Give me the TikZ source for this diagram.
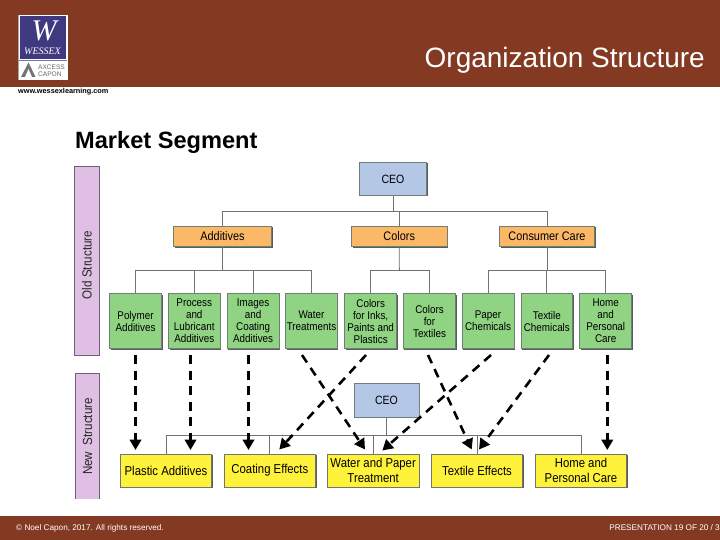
\documentclass[tikz,border=0pt]{standalone}
\usepackage{fontspec}
\setmainfont{Liberation Sans}
\newfontfamily\narrowf[FakeStretch=0.88]{Liberation Sans}
\newfontfamily\logof{Liberation Serif}
\usetikzlibrary{arrows.meta,shadows}
\definecolor{brownbar}{HTML}{843A22}
\definecolor{linec}{HTML}{6E7470}
\definecolor{edgec}{HTML}{6F7F78}
\definecolor{shadowc}{HTML}{555F5A}
\definecolor{ceoc}{HTML}{B4C7E7}
\definecolor{orangec}{HTML}{FBB867}
\definecolor{greenc}{HTML}{8FD383}
\definecolor{yellowc}{HTML}{FFF23A}
\definecolor{purplec}{HTML}{DFBFE3}
\definecolor{purpleedge}{HTML}{6F5F78}
\definecolor{navyc}{HTML}{3F3A80}
\tikzset{
  x=1pt,y=-1pt,
  boxbase/.style={draw=edgec,line width=.7pt,inner sep=0pt,align=center,text=black,
    font=\narrowf\fontsize{11.2}{12}\selectfont,
    general shadow={fill=shadowc,shadow xshift=1pt,shadow yshift=-1pt}},
  ceobox/.style={boxbase,fill=ceoc,font=\narrowf\fontsize{12}{14}\selectfont},
  orangebox/.style={boxbase,fill=orangec,font=\narrowf\fontsize{12.4}{14}\selectfont},
  greenbox/.style={boxbase,fill=greenc},
  yellowbox/.style={boxbase,fill=yellowc,draw=black!55,font=\narrowf\fontsize{12.9}{15}\selectfont},
  tree/.style={draw=linec,line width=.9pt},
  moved/.style={draw=black,line width=2.6pt,dash pattern=on 9pt off 6.5pt,
    -{Triangle[length=10.5pt,width=11.5pt]}},
  barlabel/.style={rotate=90,font=\narrowf\fontsize{13.2}{15}\selectfont,text=black!85,inner sep=0pt},
  plain/.style={inner sep=0pt,text=black},
}
\newcommand{\bx}[7]{\node[#1,minimum width={(#5)-(#3)},minimum height={(#6)-(#4)}] (#2) at ({((#3)+(#5))/2},{((#4)+(#6))/2}) {#7};}
\begin{document}
\begin{tikzpicture}
\useasboundingbox (0,0) rectangle (720,540);
\fill[white] (0,0) rectangle (720,540);
\fill[brownbar] (0,0) rectangle (720,87);
\fill[brownbar] (0,516) rectangle (720,540);
% logo
\fill[white] (18,15) rectangle (67.5,80.5);
\fill[navyc] (19.5,16.5) rectangle (66,59);
\fill[navyc!70!white] (19,60) rectangle (67,61);
\fill[black!35] (18,15) rectangle (18.6,80.5);
\node[plain,text=white,font=\logof\itshape\fontsize{30}{30}\selectfont] (logow) at (44,30.5) {W};
\node[plain,text=white,font=\logof\itshape\fontsize{10}{10}\selectfont] (logon) at (42.5,51) {WESSEX};
\node[plain,text=black!60,font=\fontsize{6.6}{7.4}\selectfont,align=left] (logoa) at (51.5,71) {AXCESS\\CAPON};
\fill[black!55] (28.5,62.5) -- (35.5,77) -- (21,77) -- cycle;
\fill[white] (28.5,69) -- (32,77) -- (25,77) -- cycle;
% header texts
\node[plain,text=white,font=\fontsize{28}{32}\selectfont,anchor=east] (title) at (705,60) {Organization Structure};
\node[plain,font=\bfseries\fontsize{7.3}{9}\selectfont,anchor=west] (url) at (18,92) {www.wessexlearning.com};
\node[plain,font=\bfseries\fontsize{23.6}{27}\selectfont,anchor=west] (market) at (75,142) {Market Segment};
\node[plain,text=white,font=\fontsize{8.2}{10}\selectfont,anchor=west] (copy) at (16,528) {© Noel Capon, 2017. All rights reserved.};
\node[plain,text=white,font=\fontsize{8.2}{10}\selectfont,anchor=east] (pres) at (720,528) {PRESENTATION 19 OF 20 / 3};
% side bars
\fill[purplec,draw=purpleedge,line width=.8pt] (74.5,166) rectangle (99,355);
\node[barlabel] (oldl) at (87,265) {Old Structure};
\fill[purplec] (75,373) rectangle (99,499);
\draw[purpleedge,line width=.8pt] (75,499) -- (75,373) -- (99,373) -- (99,499);
\node[barlabel] (newl) at (87.5,436.5) {New\ \ Structure};
% old structure
\bx{ceobox}{ceo}{359.5}{162.5}{426.5}{195.5}{CEO}
\bx{orangebox}{add}{173.5}{226}{271.5}{246.5}{Additives}
\bx{orangebox}{col}{351.5}{226}{447}{246.5}{Colors}
\bx{orangebox}{con}{499.5}{226}{594.5}{246.5}{Consumer Care}
\bx{greenbox}{g1}{109.5}{293.5}{161.5}{348.5}{Polymer\\Additives}
\bx{greenbox}{g2}{168.5}{293.5}{220}{348.5}{Process\\and\\Lubricant\\Additives}
\bx{greenbox}{g3}{227}{293.5}{279.3}{348.5}{Images\\and\\Coating\\Additives}
\bx{greenbox}{g4}{285.7}{293.5}{337.3}{348.5}{Water\\Treatments}
\bx{greenbox}{g5}{344.7}{293.5}{396.7}{348.5}{Colors\\for Inks,\\Paints and\\Plastics}
\bx{greenbox}{g6}{403.3}{293.5}{455.7}{348.5}{Colors\\for\\Textiles}
\bx{greenbox}{g7}{462}{293.5}{514}{348.5}{Paper\\Chemicals}
\bx{greenbox}{g8}{521}{293.5}{572.7}{348.5}{Textile\\Chemicals}
\bx{greenbox}{g9}{579.7}{293.5}{631.7}{348.5}{Home\\and\\Personal\\Care}
\coordinate (bus) at (393,211);
\coordinate (busa) at (222.5,270);
\coordinate (busc) at (399.3,270);
\coordinate (busd) at (547,270);
\draw[tree] (ceo.south) -- (bus);
\draw[tree] (add.north) -- (add.north |- bus) -- (con.north |- bus) -- (con.north);
\draw[tree] (col.north) -- (col.north |- bus);
\draw[tree] (add.south) -- (busa);
\draw[tree] (g1.north) -- (g1.north |- busa) -- (g4.north |- busa) -- (g4.north);
\draw[tree] (g2.north) -- (g2.north |- busa);
\draw[tree] (g3.north) -- (g3.north |- busa);
\draw[tree] (col.south) -- (busc);
\draw[tree] (g5.north) -- (g5.north |- busc) -- (g6.north |- busc) -- (g6.north);
\draw[tree] (con.south) -- (busd);
\draw[tree] (g7.north) -- (g7.north |- busd) -- (g9.north |- busd) -- (g9.north);
\draw[tree] (g8.north) -- (g8.north |- busd);
% new structure
\bx{ceobox}{ceob}{354}{383.5}{419}{417.3}{CEO}
\bx{yellowbox}{y1}{120.3}{454}{211.7}{487.3}{Plastic Additives}
\bx{yellowbox}{y2}{224}{454}{315.7}{487.3}{Coating Effects}
\bx{yellowbox}{y3}{327.3}{454}{419}{487.3}{Water and Paper\\Treatment}
\bx{yellowbox}{y4}{431.3}{454}{522.7}{487.3}{Textile Effects}
\bx{yellowbox}{y5}{535.3}{454}{626.7}{487.3}{Home and\\Personal Care}
\coordinate (busn) at (386.5,435.7);
\draw[tree] (ceob.south) -- (busn);
\draw[tree] (y1.north) -- (y1.north |- busn) -- (y5.north |- busn) -- (y5.north);
\draw[tree] (y2.north) -- (y2.north |- busn);
\draw[tree] (y3.north) -- (y3.north |- busn);
\draw[tree] (y4.north) -- (y4.north |- busn);
% moves
\foreach \n/\x in {s1/135.5,s2/190.5,s3/248.5,s4/302,s5/366,s6/428,s7/491,s8/549,s9/607.3}
  \coordinate (\n) at (\x,355);
\coordinate (t1) at (135.5,450);
\coordinate (t2) at (190.5,450);
\coordinate (t3) at (248.5,450);
\coordinate (t4) at (365,449.5);
\coordinate (t5) at (279.3,449.5);
\coordinate (t6) at (471.7,449.5);
\coordinate (t7) at (382.3,450.5);
\coordinate (t8) at (479,449.5);
\coordinate (t9) at (607.3,450);
\foreach \i in {1,...,9} \draw[moved] (s\i) -- (t\i);
\end{tikzpicture}
\end{document}
